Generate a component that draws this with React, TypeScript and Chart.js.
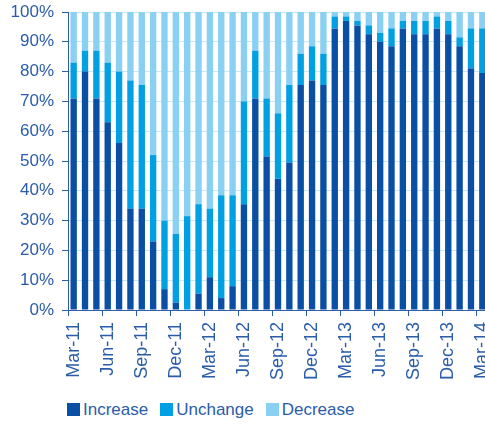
import React, { useEffect, useRef } from 'react';
import { Chart, registerables } from 'chart.js';

Chart.register(...registerables);

const categories = [
  'Mar-11', 'Apr-11', 'May-11', 'Jun-11', 'Jul-11', 'Aug-11', 'Sep-11', 'Oct-11', 'Nov-11', 'Dec-11', 'Jan-12', 'Feb-12',
  'Mar-12', 'Apr-12', 'May-12', 'Jun-12', 'Jul-12', 'Aug-12', 'Sep-12', 'Oct-12', 'Nov-12', 'Dec-12', 'Jan-13', 'Feb-13',
  'Mar-13', 'Apr-13', 'May-13', 'Jun-13', 'Jul-13', 'Aug-13', 'Sep-13', 'Oct-13', 'Nov-13', 'Dec-13', 'Jan-14', 'Feb-14',
  'Mar-14',
];

const increase = [
  71, 80, 71, 63, 56, 34, 34, 23, 7, 2.5, 0, 5.5,
  11, 4, 8, 35.5, 71, 51.5, 44, 49.5, 75.5, 77, 75.5, 94.5,
  97, 95.5, 92.5, 90, 88.5, 94.5, 92.5, 92.5, 94.5, 92.5, 88.5, 81, 79.5,
];

const unchange = [
  12, 7, 16, 20, 24, 43, 41.5, 29, 23, 23, 31.5, 30,
  23, 34.5, 30.5, 34.5, 16, 19.5, 22, 26, 10.5, 11.5, 10.5, 4,
  1.5, 1.5, 3, 3, 6, 2.5, 4.5, 4.5, 4, 4.5, 3, 13.5, 15,
];

const decrease = [
  17, 13, 13, 17, 20, 23, 24.5, 48, 70, 74.5, 68.5, 64.5,
  66, 61.5, 61.5, 30, 13, 29, 34, 24.5, 14, 11.5, 14, 1.5,
  1.5, 3, 4.5, 7, 5.5, 3, 3, 3, 1.5, 3, 8.5, 5.5, 5.5,
];

const seriesNames = ['Increase', 'Unchange', 'Decrease'];
const seriesColors = ['#0a4fa3', '#00a0e3', '#8ad0f3'];

const FONT = '"Liberation Sans", Arial, sans-serif';
const TEXT = '#2a5caa';
const AXIS = '#2f5ba8';
const GRID = '#c9e8f6';

const W = 488;
const H = 395;

export default function App() {
  const ref = useRef<HTMLCanvasElement>(null);

  useEffect(() => {
    const values = [increase, unchange, decrease];
    const chart = new Chart(ref.current as HTMLCanvasElement, {
      type: 'bar',
      data: {
        labels: categories,
        datasets: seriesNames.map((name, i) => ({
          label: name,
          data: values[i],
          backgroundColor: seriesColors[i],
          borderWidth: 0,
          barPercentage: 0.56,
          categoryPercentage: 1,
        })),
      },
      options: {
        responsive: false,
        animation: false,
        devicePixelRatio: 1,
        layout: { padding: { top: 12, right: 0, left: 0, bottom: 0 } },
        plugins: { legend: { display: false }, tooltip: { enabled: false } },
        scales: {
          x: {
            stacked: true,
            offset: true,
            grid: {
              display: true,
              drawOnChartArea: false,
              offset: true,
              tickLength: 6,
              color: (ctx: any) => (ctx.index % 3 === 0 ? AXIS : 'rgba(0,0,0,0)'),
              tickColor: (ctx: any) => (ctx.index % 3 === 0 ? AXIS : 'rgba(0,0,0,0)'),
            },
            border: { color: AXIS, width: 1 },
            ticks: {
              autoSkip: false,
              maxRotation: 90,
              minRotation: 90,
              padding: 6,
              color: TEXT,
              font: { family: FONT, size: 18 },
              callback: (_v: any, i: number) => (i % 3 === 0 ? categories[i] : ''),
            },
            afterFit: (s: any) => {
              s.height = H - 310;
              s.paddingLeft = 0;
              s.paddingRight = 0;
            },
          },
          y: {
            stacked: true,
            min: 0,
            max: 100,
            ticks: {
              stepSize: 10,
              padding: 8,
              color: TEXT,
              font: { family: FONT, size: 17 },
              callback: (v: any) => v + '%',
            },
            grid: { color: GRID, tickLength: 6, tickColor: AXIS, lineWidth: 1 },
            border: { color: AXIS, width: 1 },
            afterFit: (s: any) => {
              s.width = 68;
              s.paddingTop = 0;
              s.paddingBottom = 0;
            },
          },
        },
      },
    });
    return () => chart.destroy();
  }, []);

  return (
    <div
      style={{
        position: 'fixed',
        left: 0,
        top: 0,
        width: 485,
        height: 424,
        overflow: 'hidden',
        background: '#ffffff',
      }}
    >
      <canvas ref={ref} width={W} height={H} style={{ position: 'absolute', left: 0, top: 0, width: W, height: H }} />
      <div
        style={{
          position: 'absolute',
          left: 67,
          top: 401,
          display: 'flex',
          alignItems: 'center',
          fontFamily: FONT,
          fontSize: 17,
          lineHeight: '17px',
          color: TEXT,
          whiteSpace: 'nowrap',
        }}
      >
        {seriesNames.map((name, i) => (
          <div key={name} style={{ display: 'flex', alignItems: 'center', marginRight: 12 }}>
            <span style={{ display: 'inline-block', width: 13, height: 13, background: seriesColors[i], marginRight: 3 }} />
            <span>{name}</span>
          </div>
        ))}
      </div>
    </div>
  );
}
